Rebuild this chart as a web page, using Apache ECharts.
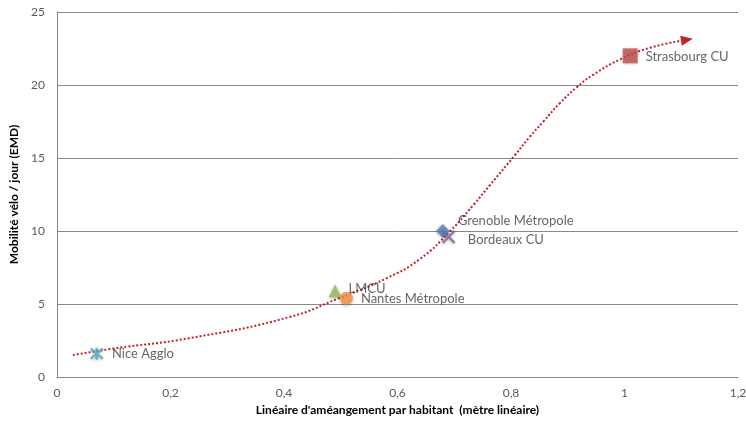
<!DOCTYPE html>
<html>
<head>
<meta charset="utf-8">
<script src="https://cdn.jsdelivr.net/npm/echarts@6/dist/echarts.min.js"></script>
<style>
html,body{margin:0;padding:0;background:#fff;}
#chart{width:746px;height:423px;}
</style>
</head>
<body>
<div id="chart"></div>
<script>
const cities = ['Nice Agglo', 'LMCU', 'Nantes Métropole', 'Grenoble Métropole', 'Bordeaux CU', 'Strasbourg CU'];
const xValues = [0.07, 0.49, 0.51, 0.68, 0.69, 1.01];
const yValues = [1.6, 5.9, 5.4, 10.0, 9.6, 22.0];
const trendX = [0.028, 0.10, 0.233, 0.409, 0.497, 0.58, 0.64, 0.693, 0.734, 0.763, 0.807, 0.833, 0.857, 0.886, 0.916, 0.945, 0.992, 1.045, 1.11];
const trendY = [1.5, 1.95, 2.66, 4.1, 5.4, 6.75, 8.1, 10.0, 11.8, 13.15, 15.2, 16.45, 17.5, 18.75, 19.85, 20.7, 21.75, 22.55, 23.1];
const xAxisName = "Linéaire d'améangement par habitant  (mètre linéaire)";
const yAxisName = 'Mobilité vélo / jour (EMD)';

const markerStyles = [
  {symbol: 'path://M0,0L10,10M10,0L0,10M5,-1L5,11', size: 12, color: '#4bacc6', stroke: true, dist: 8, offset: [0, 0]},
  {symbol: 'triangle', size: 13, color: '#9bbb59', dist: 7, offset: [0, -2]},
  {symbol: 'circle', size: 13, color: '#f79646', dist: 8, offset: [0, 1]},
  {symbol: 'diamond', size: 14, color: '#4f81bd', dist: 8, offset: [0, -10]},
  {symbol: 'path://M0,0L10,10M10,0L0,10', size: 12, color: '#8064a2', stroke: true, dist: 12, offset: [0, 3]},
  {symbol: 'rect', size: 15, color: '#c0504d', dist: 8, offset: [0, 1]}
];

const fontFam = 'Lato, "Open Sans", sans-serif';

const scatterSeries = cities.map((name, i) => {
  const m = markerStyles[i];
  return {
    type: 'scatter',
    name: name,
    z: 3,
    symbol: m.symbol,
    symbolSize: m.size,
    itemStyle: m.stroke
      ? {color: m.color, borderColor: m.color, borderWidth: 2.5, shadowBlur: 3, shadowColor: 'rgba(0,0,0,0.3)', shadowOffsetY: 1}
      : {color: m.color, shadowBlur: 3, shadowColor: 'rgba(0,0,0,0.35)', shadowOffsetY: 1},
    label: {
      show: true,
      position: 'right',
      distance: m.dist,
      offset: m.offset,
      formatter: name,
      color: '#404040',
      fontSize: 13,
      fontFamily: fontFam
    },
    data: [[xValues[i], yValues[i]]]
  };
});

const trendData = trendX.map((x, i) => {
  if (i === trendX.length - 1) {
    return {value: [x, trendY[i]], symbol: 'triangle', symbolSize: [10, 12], symbolRotate: -80, itemStyle: {color: '#c8202a'}};
  }
  return {value: [x, trendY[i]], symbol: 'none'};
});

const chart = echarts.init(document.getElementById('chart'));
chart.setOption({
  animation: false,
  backgroundColor: '#fff',
  grid: {left: 57, right: 8, top: 12, bottom: 46, containLabel: false, outerBoundsMode: 'none'},
  xAxis: {
    type: 'value',
    min: 0, max: 1.2, interval: 0.2,
    name: xAxisName,
    nameLocation: 'middle',
    nameGap: 22,
    nameTextStyle: {fontWeight: 'bold', fontSize: 12, color: '#000', fontFamily: fontFam},
    axisLine: {show: true, lineStyle: {color: '#888'}},
    axisTick: {show: false},
    splitLine: {show: false},
    axisLabel: {color: '#595959', fontSize: 12, fontFamily: fontFam, margin: 10,
      formatter: v => String(Math.round(v * 10) / 10).replace('.', ',')}
  },
  yAxis: {
    type: 'value',
    min: 0, max: 25, interval: 5,
    name: yAxisName,
    nameLocation: 'middle',
    nameGap: 36,
    nameTextStyle: {fontWeight: 'bold', fontSize: 12, color: '#000', fontFamily: fontFam},
    axisLine: {show: true, lineStyle: {color: '#888'}},
    axisTick: {show: false},
    splitLine: {show: true, lineStyle: {color: '#888'}},
    axisLabel: {color: '#595959', fontSize: 12, fontFamily: fontFam, margin: 12}
  },
  series: [
    {
      type: 'line',
      name: 'trend',
      z: 2,
      smooth: 0.5,
      showSymbol: true,
      symbol: 'none',
      lineStyle: {type: [2, 2], width: 2, color: '#c8202a'},
      itemStyle: {color: '#c8202a'},
      data: trendData
    }
  ].concat(scatterSeries)
});
</script>
</body>
</html>
